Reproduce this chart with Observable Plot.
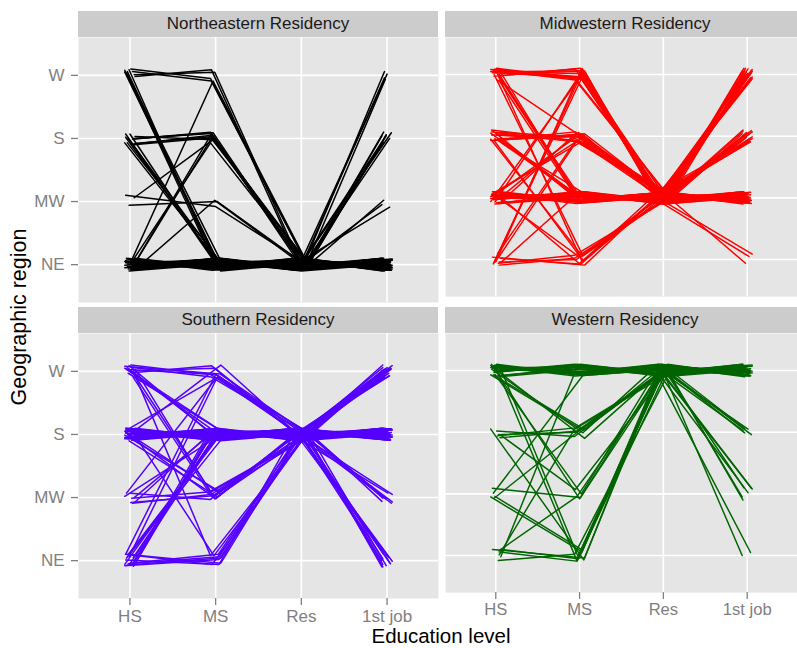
<!DOCTYPE html>
<html>
<head>
<meta charset="utf-8">
<script src="https://cdn.jsdelivr.net/npm/d3@7"></script>
<script src="https://cdn.jsdelivr.net/npm/@observablehq/plot@0.6"></script>
<style>
html, body { margin: 0; padding: 0; background: #fff; overflow: hidden; }
#chart { position: relative; width: 797px; height: 648px; overflow: hidden; font-family: "Liberation Sans", Arial, Helvetica, sans-serif; }
.strip { position: absolute; background: #cccccc; color: #1a1a1a; font-size: 17px; display: flex; align-items: center; justify-content: center; white-space: nowrap; }
.panel { position: absolute; }
.title { position: absolute; color: #000; font-size: 20.5px; white-space: nowrap; line-height: 14px; }
</style>
</head>
<body>
<div id="chart"></div>
<script>
// Axis categories
const levels = ["HS", "MS", "Res", "1st job"];
const regions = ["NE", "MW", "S", "W"];
const facetTitles = ["Northeastern Residency", "Midwestern Residency", "Southern Residency", "Western Residency"];
const facetColors = ["#000000", "#ff0000", "#5500ff", "#006400"];

// Paths: "HS MS Res 1stJob count"
const northeasternPaths = [
  "W W NE NE 3", "W W NE S 1", "W NE NE NE 6", "W NE NE W 1",
  "S S NE NE 5", "S S NE S 2", "S NE NE NE 5", "S NE NE S 1",
  "MW MW NE NE 1", "MW MW NE MW 1", "MW S NE S 1",
  "NE W NE NE 1", "NE S NE NE 2", "NE S NE W 1", "NE MW NE NE 1",
  "NE NE NE NE 22", "NE NE NE S 4", "NE NE NE W 2", "NE NE NE MW 2"
];
const midwesternPaths = [
  "W W MW W 5", "W W MW S 3", "W W MW MW 3", "W MW MW MW 4", "W MW MW W 2",
  "W S MW S 1", "W NE MW MW 2",
  "S S MW S 5", "S S MW MW 4", "S S MW W 2", "S MW MW MW 3", "S MW MW W 2",
  "S NE MW NE 1", "S NE MW MW 1",
  "MW MW MW MW 13", "MW MW MW W 5", "MW MW MW S 2", "MW MW MW NE 1",
  "MW S MW S 3", "MW S MW W 2", "MW W MW MW 1", "MW W MW W 1", "MW NE MW MW 2",
  "NE NE MW W 2", "NE NE MW MW 2", "NE NE MW S 1", "NE MW MW MW 1",
  "NE S MW S 2", "NE W MW W 2", "NE W MW NE 1"
];
const southernPaths = [
  "W W S W 3", "W W S S 3", "W S S S 3", "W S S W 2", "W MW S S 2", "W MW S NE 1", "W NE S S 1",
  "S S S S 20", "S S S W 7", "S S S NE 4", "S S S MW 3", "S W S S 1", "S W S W 1",
  "S MW S S 2", "S MW S MW 2", "S NE S NE 1",
  "MW MW S S 2", "MW MW S W 2", "MW S S S 2", "MW S S NE 1", "MW W S MW 1",
  "NE S S S 6", "NE S S W 4", "NE S S MW 1", "NE NE S S 3", "NE NE S NE 3", "NE NE S W 1", "NE W S NE 2"
];
const westernPaths = [
  "W W W W 18", "W W W S 1", "W W W MW 1", "W S W W 2", "W S W S 1", "W S W MW 1",
  "W MW W W 1", "W MW W MW 1", "W NE W W 2",
  "S S W W 2", "S S W S 1", "S S W MW 1", "S MW W W 1", "S NE W W 1",
  "MW MW W MW 1", "MW NE W W 2", "MW S W NE 1", "MW W W W 1",
  "NE NE W W 2", "NE NE W S 1", "NE NE W MW 1", "NE S W S 1", "NE W W NE 1", "NE MW W W 1"
];

// Jitter offsets (like position_jitter), typed, in category units
const yJitter = [0.06,-0.09,0.02,-0.01,0.10,-0.05,0.07,-0.10,0.01,0.05,-0.07,0.03,-0.02,0.09,-0.06,0.00,0.08,-0.04,0.10,-0.08,0.03,-0.05,0.06,-0.01,0.09,-0.07,0.04,-0.09,0.05,0.01,-0.06,0.07,-0.03,0.10,-0.04,0.00,0.06,-0.08,0.02,-0.07,0.04];
const xJitter = [0.03,-0.05,0.06,-0.02,0.01,-0.06,0.04,-0.03,0.05,-0.01,0.02,-0.04,0.06,-0.05,0.00,0.03,-0.06,0.05,-0.02,0.04,-0.04,0.01,-0.03,0.06,-0.01,0.02,-0.05,0.04,-0.06];

const facetPaths = [northeasternPaths, midwesternPaths, southernPaths, westernPaths];

function buildRows(paths) {
  const rows = [];
  let c = 0;
  paths.forEach((p, pi) => {
    const parts = p.split(" ");
    const n = +parts[4];
    for (let r = 0; r < n; r++) {
      const id = pi + "-" + r;
      for (let k = 0; k < 4; k++) {
        rows.push({
          id,
          level: levels[k],
          region: parts[k],
          x: k + 1 + xJitter[c % xJitter.length],
          y: regions.indexOf(parts[k]) + 1 + yJitter[c % yJitter.length]
        });
        c++;
      }
    }
  });
  return rows;
}

const chart = document.getElementById("chart");
const PW = 360, PH = 265, ML = 78, MB = 48;
const colX = [0, 445];
const panelTop = [37, 333];
const stripTop = [11, 307];
const gray = "#7f7f7f";

facetPaths.forEach((paths, i) => {
  const col = i % 2, row = Math.floor(i / 2);
  const left = col === 0, bottom = row === 1;
  const ml = left ? ML : 0, mb = bottom ? MB : 0;
  const rows = buildRows(paths);
  const marks = [
    Plot.frame({fill: "#e5e5e5", stroke: null}),
    Plot.gridX([1, 2, 3, 4], {stroke: "#ffffff", strokeOpacity: 1, strokeWidth: 1.6}),
    Plot.gridY([1, 2, 3, 4], {stroke: "#ffffff", strokeOpacity: 1, strokeWidth: 1.6}),
    Plot.line(rows, {x: "x", y: "y", z: "id", stroke: facetColors[i], strokeWidth: 1.5, curve: "linear"})
  ];
  if (left) marks.push(Plot.axisY([1, 2, 3, 4], {
    tickFormat: d => regions[d - 1], tickSize: 7, tickPadding: 7, fontSize: 17,
    color: gray, strokeWidth: 1.3, label: null
  }));
  if (bottom) marks.push(Plot.axisX([1, 2, 3, 4], {
    tickFormat: d => levels[d - 1], tickSize: 7, tickPadding: 4, fontSize: 17,
    color: gray, strokeWidth: 1.3, label: null
  }));
  const svg = Plot.plot({
    width: PW + ml,
    height: PH + mb,
    marginLeft: ml, marginRight: 0, marginTop: 0, marginBottom: mb,
    x: {domain: [0.4, 4.6], axis: null},
    y: {domain: [0.4, 4.6], axis: null},
    style: {background: "transparent", overflow: "visible", fontFamily: "'Liberation Sans', Arial, Helvetica, sans-serif"},
    marks
  });
  const wrap = document.createElement("div");
  wrap.className = "panel";
  wrap.style.left = colX[col] + "px";
  wrap.style.top = panelTop[row] + "px";
  wrap.appendChild(svg);
  chart.appendChild(wrap);

  const strip = document.createElement("div");
  strip.className = "strip";
  strip.style.left = (left ? ML : colX[col]) + "px";
  strip.style.top = stripTop[row] + "px";
  strip.style.width = PW + "px";
  strip.style.height = "26px";
  strip.textContent = facetTitles[i];
  chart.appendChild(strip);
});

const yTitle = document.createElement("div");
yTitle.className = "title";
yTitle.textContent = "Geographic region";
yTitle.style.fontSize = "21.5px";
yTitle.style.lineHeight = "22px";
yTitle.style.left = "19px";
yTitle.style.top = "317px";
yTitle.style.transform = "translate(-50%, -50%) rotate(-90deg)";
yTitle.style.transformOrigin = "50% 50%";
chart.appendChild(yTitle);

const xTitle = document.createElement("div");
xTitle.className = "title";
xTitle.textContent = "Education level";
xTitle.style.left = "441px";
xTitle.style.top = "629.4px";
xTitle.style.transform = "translateX(-50%)";
chart.appendChild(xTitle);
</script>
</body>
</html>
